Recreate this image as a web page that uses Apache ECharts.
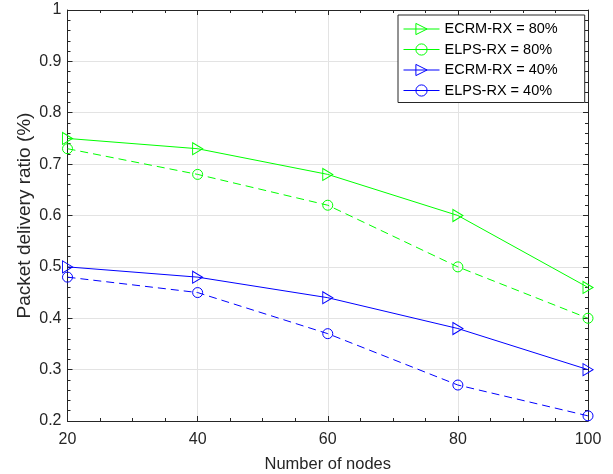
<!DOCTYPE html>
<html><head><meta charset="utf-8">
<script src="https://cdn.jsdelivr.net/npm/echarts@6/dist/echarts.min.js"></script>
<style>html,body{margin:0;padding:0;background:#fff}#c{width:613px;height:474px}</style>
</head><body><div id="c"></div>
<script>
var nodes = [20, 40, 60, 80, 100];
var ecrm80 = [0.75, 0.73, 0.68, 0.60, 0.46];
var elps80 = [0.73, 0.68, 0.62, 0.50, 0.40];
var ecrm40 = [0.50, 0.48, 0.44, 0.38, 0.30];
var elps40 = [0.48, 0.45, 0.37, 0.27, 0.21];
var seriesNames = ['ECRM-RX = 80%', 'ELPS-RX = 80%', 'ECRM-RX = 40%', 'ELPS-RX = 40%'];
var seriesColors = ['#00ff00', '#00ff00', '#0000ff', '#0000ff'];

var FONT = 'Liberation Sans, Arial, sans-serif';
var TRI = 'path://M0,0 L10,5 L0,10 Z';
var NOFILL = 'rgba(255,255,255,0)';
function pairs(v){ return nodes.map(function(x,i){return [x, v[i]];}); }
function mk(name, data, color, sym, dashed){
  return {
    name: name, type: 'line', data: pairs(data),
    symbol: sym, symbolSize: sym === TRI ? [10, 12] : 10,
    showSymbol: true,
    lineStyle: {color: color, width: 1, type: dashed ? [8, 5] : 'solid'},
    itemStyle: {color: NOFILL, borderColor: color, borderWidth: 1},
    emphasis: {disabled: true}, animation: false, z: 3
  };
}
var axisCol = '#262626';
var chart = echarts.init(document.getElementById('c'), null, {renderer: 'canvas'});
chart.setOption({
  backgroundColor: '#fff',
  animation: false,
  grid: {left: 67.5, right: 25, top: 10, bottom: 53, containLabel: false, outerBoundsMode: 'none'},
  legend: {
    orient: 'vertical', left: 398, top: 15,
    backgroundColor: '#fff', borderColor: axisCol, borderWidth: 1,
    padding: [5, 27, 3, 5], itemWidth: 36, itemHeight: 14, itemGap: 2.5,
    textStyle: {fontFamily: FONT, fontSize: 14.5, color: '#000', lineHeight: 18},
    data: seriesNames.map(function(n, i){
      return {name: n, lineStyle: {type: 'solid', color: seriesColors[i], width: 1},
        itemStyle: {color: NOFILL, borderColor: seriesColors[i], borderWidth: 1}};
    })
  },
  xAxis: [{
    type: 'value', min: 20, max: 100, interval: 20,
    name: 'Number of nodes', nameLocation: 'middle', nameGap: 35, nameMoveOverlap: false,
    nameTextStyle: {fontFamily: FONT, fontSize: 16.5, color: axisCol},
    axisLine: {lineStyle: {color: axisCol, width: 1}},
    axisTick: {inside: true, length: 5, lineStyle: {color: axisCol}},
    minorTick: {show: true, splitNumber: 4, length: 3, lineStyle: {color: axisCol}},
    axisLabel: {fontFamily: FONT, fontSize: 16, color: axisCol, margin: 11},
    splitLine: {show: true, lineStyle: {color: '#e3e3e3', width: 1}}
  }, {
    type: 'value', min: 20, max: 100, interval: 20, position: 'top',
    axisLine: {show: true, lineStyle: {color: axisCol, width: 1}},
    axisTick: {inside: true, length: 5, lineStyle: {color: axisCol}},
    minorTick: {show: true, splitNumber: 4, length: 3, lineStyle: {color: axisCol}},
    axisLabel: {show: false}, splitLine: {show: false}
  }],
  yAxis: [{
    type: 'value', min: 0.2, max: 1, interval: 0.1,
    name: 'Packet delivery ratio (%)', nameLocation: 'middle', nameGap: 33, nameMoveOverlap: false,
    nameTextStyle: {fontFamily: FONT, fontSize: 19, color: axisCol},
    axisLine: {show: true, lineStyle: {color: axisCol, width: 1}},
    axisTick: {show: true, inside: true, length: 5, lineStyle: {color: axisCol}},
    minorTick: {show: true, splitNumber: 5, length: 3, lineStyle: {color: axisCol}},
    axisLabel: {fontFamily: FONT, fontSize: 16, color: axisCol, margin: 6,
      formatter: function(v){ return Math.abs(v-1) < 1e-9 ? '1' : v.toFixed(1); }},
    splitLine: {show: true, lineStyle: {color: '#e3e3e3', width: 1}}
  }, {
    type: 'value', min: 0.2, max: 1, interval: 0.1, position: 'right',
    axisLine: {show: true, lineStyle: {color: axisCol, width: 1}},
    axisTick: {show: true, inside: true, length: 5, lineStyle: {color: axisCol}},
    minorTick: {show: true, splitNumber: 5, length: 3, lineStyle: {color: axisCol}},
    axisLabel: {show: false}, splitLine: {show: false}
  }],
  series: [
    mk(seriesNames[0], ecrm80, seriesColors[0], TRI, false),
    mk(seriesNames[1], elps80, seriesColors[1], 'circle', true),
    mk(seriesNames[2], ecrm40, seriesColors[2], TRI, false),
    mk(seriesNames[3], elps40, seriesColors[3], 'circle', true)
  ]
});
</script></body></html>
